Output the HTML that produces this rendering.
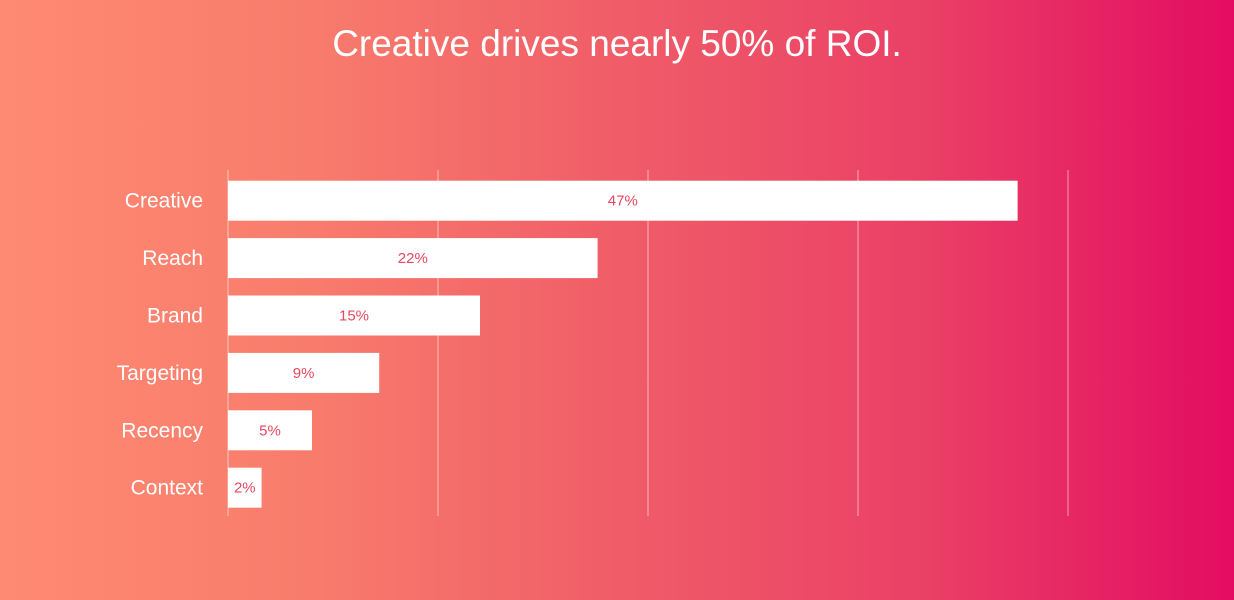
<!DOCTYPE html>
<html><head><meta charset="utf-8"><style>
body{margin:0;width:1234px;height:600px;overflow:hidden;font-family:"Liberation Sans",sans-serif;}
#bg{position:absolute;left:0;top:0;width:1234px;height:600px;background:linear-gradient(90deg,#ff8a72 0%,#f87c6c 25%,#f05d68 50%,#ea4066 75%,#e30c62 100%);}
</style></head><body>
<div id="bg"></div>
<svg id="chart" width="1234" height="600" style="position:absolute;left:0;top:0">
<text x="617" y="56" text-anchor="middle" fill="#fff" font-size="37">Creative drives nearly 50% of ROI.</text>
<g id="grid"></g><g id="bars"></g>
</svg>
<script>
const categories=["Creative","Reach","Brand","Targeting","Recency","Context"];
const values=[47,22,15,9,5,2];
const labels=["47%","22%","15%","9%","5%","2%"];
const gridTicks=[0,12.5,25,37.5,50];
const ns="http://www.w3.org/2000/svg";
const x0=228,pxPer=16.8,topY=172,band=57.4,barH=40;
const xs=v=>x0+v*pxPer;
const grid=document.getElementById('grid'),bars=document.getElementById('bars');
function mk(t,a,p){const e=document.createElementNS(ns,t);for(const k in a)e.setAttribute(k,a[k]);p.appendChild(e);return e;}
gridTicks.forEach(t=>{const l=mk('line',{x1:xs(t),x2:xs(t),y1:170,y2:516,stroke:'rgba(255,255,255,0.55)','stroke-width':1},grid);

});
categories.forEach((c,i)=>{const y=topY+i*band+(band-barH)/2;
const r=mk('rect',{x:x0,y:y,width:xs(values[i])-x0,height:barH,fill:'#fff'},bars);


const t=mk('text',{x:203,y:y+barH/2+7,'text-anchor':'end',fill:'#fff','font-size':21},bars);t.textContent=c;


const v=mk('text',{x:(x0+xs(values[i]))/2,y:y+barH/2+5,'text-anchor':'middle',fill:'#e8475e','font-size':15},bars);v.textContent=labels[i];

});
</script>
</body></html>
